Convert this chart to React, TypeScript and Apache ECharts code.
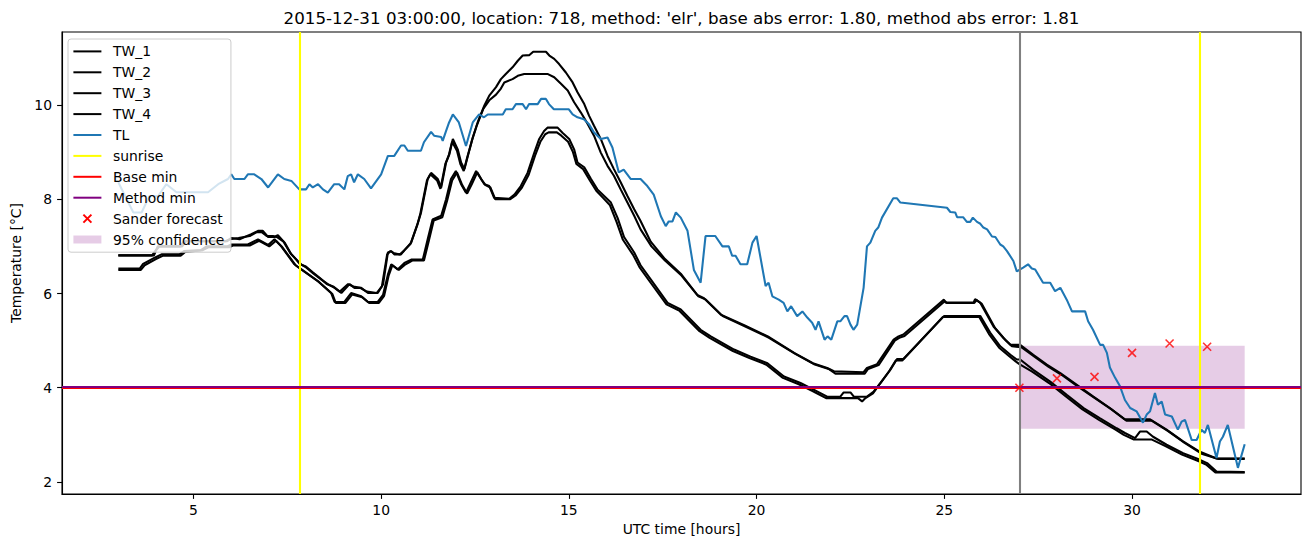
import React, { useEffect, useRef } from 'react';
import * as echarts from 'echarts';

const FONT = 'DejaVu Sans';
const TITLE = "2015-12-31 03:00:00, location: 718, method: 'elr', base abs error: 1.80, method abs error: 1.81";
const X_NAME = 'UTC time [hours]';
const Y_NAME = 'Temperature [°C]';
const X_TICKS = [5, 10, 15, 20, 25, 30];
const Y_TICKS = [2, 4, 6, 8, 10];
const X_MIN = 1.5;
const X_MAX = 34.5;
const Y_MIN = 1.745;
const Y_MAX = 11.55;

const TW_1 = [[3.0,6.81],[3.95,6.81],[4.05,7.0],[4.65,7.0],[4.75,7.11],[5.9,7.11],[6.01,7.18],[6.23,7.15],[6.54,7.26],[6.72,7.33],[6.85,7.33],[6.99,7.2],[7.16,7.2],[7.25,7.24],[7.43,7.08],[7.61,6.83],[7.78,6.69],[7.87,6.62],[8.01,6.55],[8.2,6.42],[8.4,6.3],[8.58,6.2],[8.76,6.12],[8.94,6.01],[9.16,6.2],[9.29,6.12],[9.47,6.12],[9.65,6.01],[9.91,6.01],[10.05,6.19],[10.18,6.87],[10.27,6.9],[10.35,6.83],[10.53,6.83],[10.62,6.92],[10.8,7.08],[10.98,7.5],[11.06,7.71],[11.24,8.43],[11.33,8.56],[11.51,8.43],[11.6,8.25],[11.73,8.78],[11.82,8.96],[11.91,9.28],[12.04,9.06],[12.13,8.78],[12.22,8.64],[12.31,8.92],[12.44,9.31],[12.57,9.63],[12.75,9.99],[12.88,10.2],[13.06,10.38],[13.19,10.55],[13.32,10.66],[13.5,10.8],[13.64,10.94],[13.77,11.05],[13.95,11.06],[14.05,11.13],[14.39,11.13],[14.48,11.05],[14.61,10.98],[14.74,10.87],[14.92,10.69],[15.1,10.48],[15.23,10.27],[15.41,10.02],[15.54,9.77],[15.67,9.56],[15.85,9.28],[16.03,8.92],[16.2,8.64],[16.38,8.36],[16.56,8.07],[16.74,7.79],[16.91,7.54],[17.18,7.1],[17.54,6.75],[17.98,6.42],[18.42,5.97],[18.6,5.9],[19.05,5.55],[19.67,5.33],[20.3,5.09],[21.0,4.74],[21.5,4.52],[21.88,4.42],[22.06,4.35],[22.85,4.33],[22.94,4.42],[23.21,4.5],[23.65,5.02],[23.78,5.09],[23.91,5.13],[24.99,5.87],[25.03,5.81],[25.78,5.81],[25.82,5.88],[25.96,5.8],[26.31,5.3],[26.58,5.05],[26.76,4.91],[27.02,4.91],[27.37,4.7],[27.73,4.49],[28.09,4.31],[28.53,4.06],[28.97,3.81],[29.41,3.57],[29.81,3.33],[30.48,3.33],[30.92,3.11],[31.36,2.86],[31.81,2.64],[32.25,2.5],[33.0,2.5]];

const TW_2 = [[3.0,6.81],[3.9,6.81],[4.0,6.92],[4.1,7.0],[4.7,7.0],[4.8,7.11],[5.85,7.11],[5.97,7.15],[6.2,7.18],[6.5,7.22],[6.68,7.3],[6.82,7.3],[6.95,7.22],[7.12,7.22],[7.22,7.2],[7.4,7.1],[7.58,6.86],[7.74,6.72],[7.84,6.62],[7.98,6.58],[8.18,6.45],[8.37,6.33],[8.55,6.2],[8.72,6.15],[8.9,6.04],[9.12,6.2],[9.26,6.15],[9.44,6.12],[9.62,6.04],[9.88,6.01],[10.02,6.15],[10.16,6.83],[10.25,6.9],[10.33,6.86],[10.5,6.83],[10.6,6.9],[10.78,7.05],[10.96,7.45],[11.04,7.68],[11.22,8.4],[11.31,8.53],[11.49,8.4],[11.58,8.22],[11.71,8.75],[11.8,8.93],[11.89,9.22],[12.02,9.03],[12.11,8.75],[12.2,8.6],[12.29,8.88],[12.42,9.25],[12.55,9.57],[12.72,9.92],[12.88,10.1],[13.06,10.22],[13.19,10.35],[13.28,10.48],[13.5,10.55],[13.64,10.62],[13.81,10.66],[14.43,10.66],[14.61,10.59],[14.79,10.45],[14.97,10.31],[15.14,10.06],[15.32,9.84],[15.5,9.6],[15.67,9.35],[15.85,8.99],[16.03,8.71],[16.2,8.5],[16.38,8.21],[16.56,7.93],[16.74,7.65],[16.91,7.36],[17.2,7.0],[17.56,6.7],[18.0,6.38],[18.45,5.94],[18.65,5.87],[19.1,5.52],[19.7,5.3],[20.33,5.06],[21.03,4.72],[21.53,4.5],[21.92,4.4],[22.1,4.3],[22.88,4.3],[22.97,4.4],[23.25,4.48],[23.68,5.0],[23.8,5.06],[23.94,5.1],[25.02,5.84],[25.06,5.8],[25.8,5.8],[25.86,5.86],[26.0,5.78],[26.35,5.27],[26.62,5.02],[26.8,4.88],[27.05,4.86],[27.4,4.66],[27.77,4.45],[28.13,4.27],[28.57,4.02],[29.01,3.78],[29.45,3.54],[29.85,3.3],[30.52,3.3],[30.96,3.08],[31.4,2.83],[31.85,2.6],[32.3,2.49],[33.0,2.49]];

const TW_3 = [[3.0,6.53],[3.57,6.53],[3.66,6.63],[3.97,6.76],[4.15,6.83],[4.63,6.83],[4.75,6.9],[5.2,6.92],[5.35,7.0],[5.9,7.0],[6.01,7.04],[6.45,7.04],[6.72,7.15],[6.99,7.03],[7.16,7.15],[7.34,7.0],[7.69,6.62],[7.87,6.51],[8.32,6.26],[8.67,6.01],[8.76,5.82],[9.02,5.82],[9.2,6.01],[9.47,5.94],[9.65,5.82],[9.91,5.82],[10.05,5.97],[10.18,6.4],[10.27,6.62],[10.44,6.51],[10.62,6.65],[10.8,6.72],[11.11,6.72],[11.24,7.15],[11.37,7.57],[11.6,7.65],[11.73,8.0],[11.86,8.43],[11.99,8.6],[12.13,8.32],[12.26,8.14],[12.39,8.36],[12.53,8.6],[12.66,8.43],[12.75,8.32],[12.88,8.28],[13.01,8.03],[13.41,8.01],[13.55,8.1],[13.72,8.28],[13.9,8.56],[14.08,8.99],[14.21,9.28],[14.34,9.45],[14.43,9.52],[14.7,9.52],[14.83,9.41],[15.01,9.28],[15.14,9.06],[15.23,8.78],[15.41,8.68],[15.59,8.43],[15.76,8.21],[15.94,8.07],[16.12,7.93],[16.3,7.6],[16.47,7.2],[16.74,6.87],[16.91,6.6],[17.18,6.3],[17.63,5.8],[17.98,5.66],[18.51,5.23],[18.78,5.09],[19.4,4.81],[19.84,4.66],[20.29,4.52],[20.73,4.24],[21.17,4.1],[21.52,3.96],[21.88,3.81],[22.23,3.81],[22.32,3.9],[22.5,3.9],[22.59,3.81],[22.94,3.81],[23.12,3.92],[23.3,4.1],[23.56,4.38],[23.74,4.61],[23.91,4.61],[24.99,5.52],[25.96,5.52],[26.22,5.17],[26.49,4.88],[26.76,4.7],[26.93,4.6],[27.02,4.6],[27.37,4.38],[27.82,4.13],[28.26,3.85],[28.71,3.57],[29.15,3.35],[29.59,3.14],[29.81,3.04],[30.08,2.93],[30.21,3.07],[30.39,3.07],[30.56,2.96],[30.92,2.79],[31.36,2.61],[31.81,2.47],[32.0,2.4],[32.25,2.22],[33.0,2.21]];

const TW_4 = [[3.0,6.5],[3.6,6.5],[3.7,6.6],[4.0,6.73],[4.18,6.8],[4.66,6.8],[4.78,6.88],[5.25,6.92],[5.4,6.98],[5.95,6.98],[6.05,7.02],[6.5,7.02],[6.75,7.12],[7.02,7.0],[7.2,7.12],[7.37,6.98],[7.72,6.6],[7.9,6.5],[8.35,6.24],[8.7,5.99],[8.79,5.8],[9.05,5.8],[9.23,5.98],[9.5,5.92],[9.68,5.8],[9.94,5.8],[10.08,5.95],[10.2,6.38],[10.3,6.6],[10.47,6.5],[10.65,6.62],[10.83,6.7],[11.14,6.7],[11.27,7.12],[11.4,7.55],[11.63,7.62],[11.76,7.98],[11.89,8.4],[12.02,8.57],[12.16,8.3],[12.29,8.12],[12.42,8.33],[12.56,8.57],[12.69,8.4],[12.78,8.3],[12.91,8.25],[13.04,8.0],[13.44,8.0],[13.58,8.08],[13.75,8.25],[13.93,8.52],[14.11,8.95],[14.24,9.22],[14.37,9.38],[14.46,9.42],[14.68,9.42],[14.8,9.35],[14.98,9.22],[15.11,9.0],[15.2,8.75],[15.38,8.64],[15.56,8.4],[15.73,8.18],[15.91,8.03],[16.09,7.88],[16.27,7.52],[16.44,7.14],[16.71,6.82],[16.88,6.56],[17.15,6.26],[17.6,5.77],[17.95,5.63],[18.48,5.2],[18.75,5.06],[19.37,4.78],[19.81,4.63],[20.26,4.49],[20.7,4.21],[21.14,4.07],[21.49,3.93],[21.85,3.78],[22.2,3.78],[22.7,3.78],[22.81,3.71],[22.9,3.78],[23.1,3.88],[23.27,4.07],[23.53,4.35],[23.71,4.58],[23.88,4.58],[24.96,5.5],[25.93,5.5],[26.19,5.14],[26.46,4.85],[26.73,4.67],[26.9,4.56],[27.0,4.5],[27.34,4.34],[27.79,4.1],[28.23,3.82],[28.68,3.54],[29.12,3.32],[29.56,3.11],[29.78,3.0],[30.05,2.9],[30.2,2.9],[30.53,2.9],[30.89,2.76],[31.33,2.58],[31.78,2.44],[31.97,2.37],[32.22,2.2],[33.0,2.2]];

const TL = [[3.0,8.36],[3.4,7.72],[3.62,7.72],[3.83,8.07],[4.06,8.07],[4.28,8.32],[4.55,8.15],[5.03,8.15],[5.39,8.15],[5.66,8.32],[5.92,8.43],[6.01,8.53],[6.09,8.43],[6.36,8.43],[6.45,8.53],[6.62,8.53],[6.81,8.43],[6.99,8.25],[7.25,8.53],[7.42,8.43],[7.61,8.39],[7.82,8.21],[8.0,8.21],[8.09,8.32],[8.18,8.25],[8.32,8.32],[8.45,8.21],[8.58,8.14],[8.75,8.32],[8.88,8.32],[9.02,8.21],[9.11,8.49],[9.2,8.53],[9.28,8.36],[9.38,8.53],[9.55,8.43],[9.73,8.23],[10.0,8.53],[10.18,8.92],[10.35,8.92],[10.53,9.14],[10.62,9.14],[10.71,9.03],[11.06,9.03],[11.14,9.21],[11.33,9.43],[11.41,9.35],[11.6,9.32],[11.64,9.24],[11.73,9.45],[11.81,9.63],[11.91,9.8],[12.07,9.63],[12.26,9.13],[12.44,9.63],[12.61,9.8],[12.74,9.74],[12.84,9.8],[13.24,9.8],[13.32,9.91],[13.5,9.91],[13.59,10.02],[13.77,10.02],[13.86,9.91],[13.94,10.02],[14.17,10.02],[14.26,10.13],[14.39,10.13],[14.47,10.02],[14.6,9.91],[15.0,9.91],[15.1,9.8],[15.23,9.74],[15.4,9.7],[15.53,9.6],[15.66,9.43],[15.85,9.28],[16.03,9.31],[16.16,9.1],[16.33,8.57],[16.46,8.63],[16.65,8.43],[16.91,8.43],[17.09,8.28],[17.26,8.1],[17.45,7.64],[17.58,7.43],[17.66,7.53],[17.76,7.53],[17.85,7.72],[17.98,7.61],[18.16,7.33],[18.33,6.5],[18.51,6.23],[18.64,7.22],[18.9,7.22],[19.09,7.0],[19.26,7.0],[19.35,6.8],[19.44,6.8],[19.57,6.62],[19.75,6.62],[19.89,7.08],[20.0,7.22],[20.24,6.16],[20.32,6.23],[20.42,5.94],[20.59,5.87],[20.72,5.8],[20.82,5.62],[20.92,5.73],[21.08,5.52],[21.22,5.62],[21.35,5.49],[21.48,5.38],[21.57,5.23],[21.65,5.41],[21.81,5.02],[21.89,5.09],[21.99,5.02],[22.15,5.41],[22.23,5.41],[22.34,5.52],[22.41,5.52],[22.5,5.34],[22.58,5.23],[22.68,5.34],[22.85,6.12],[22.94,7.0],[23.03,7.08],[23.16,7.33],[23.24,7.4],[23.34,7.61],[23.64,8.02],[23.74,8.02],[23.83,7.93],[25.07,7.82],[25.16,7.73],[25.29,7.72],[25.34,7.62],[25.5,7.62],[25.6,7.52],[25.69,7.52],[25.76,7.61],[25.87,7.52],[25.96,7.48],[26.04,7.4],[26.14,7.36],[26.27,7.21],[26.36,7.2],[26.49,7.04],[26.57,7.0],[26.67,6.9],[26.84,6.69],[26.93,6.47],[27.02,6.51],[27.1,6.55],[27.23,6.62],[27.33,6.53],[27.42,6.51],[27.63,6.23],[27.82,6.23],[27.95,6.05],[28.09,6.12],[28.26,5.87],[28.4,5.62],[28.75,5.62],[28.83,5.41],[28.96,5.23],[29.15,4.91],[29.23,4.91],[29.33,4.74],[29.41,4.43],[29.55,4.21],[29.68,4.03],[29.81,3.74],[29.95,3.57],[30.12,3.5],[30.29,3.26],[30.39,3.43],[30.48,3.5],[30.61,3.89],[30.69,3.64],[30.79,3.71],[30.88,3.43],[31.06,3.39],[31.22,3.11],[31.32,3.28],[31.41,3.32],[31.59,2.89],[31.72,2.89],[31.85,3.11],[31.94,3.04],[32.02,3.21],[32.25,2.51],[32.34,2.86],[32.42,2.96],[32.55,3.21],[32.82,2.3],[33.0,2.8]];

const SUNRISE = [7.82, 31.81];
const FORECAST_TIME = 27;
const BASE_MIN = 4.0;
const METHOD_MIN = 4.026;
const SANDER_HOURS = [27, 28, 29, 30, 31, 32];
const SANDER_VALUES = [4.0, 4.2, 4.23, 4.74, 4.94, 4.87];
const CONF_HOURS = [27, 33];
const CONF_BOUNDS = [3.13, 4.89];

const LEGEND_NAMES = ['TW_1', 'TW_2', 'TW_3', 'TW_4', 'TL', 'sunrise', 'Base min', 'Method min', 'Sander forecast', '95% confidence'];

const BAND_COLOR = 'rgba(128,0,128,0.2)';

function dataLine(name: string, data: number[][], color: string) {
  return {
    name,
    type: 'line',
    data,
    symbol: 'none',
    showSymbol: false,
    color,
    lineStyle: { color, width: 2.08 },
    silent: true,
    z: 3,
  };
}

function markerLine(name: string, color: string, width: number, items: any[], z: number) {
  return {
    name,
    type: 'line',
    data: [],
    symbol: 'none',
    color,
    lineStyle: { color, width },
    silent: true,
    z,
    markLine: {
      silent: true,
      symbol: ['none', 'none'],
      label: { show: false },
      emphasis: { disabled: true },
      lineStyle: { color, width, type: 'solid' },
      z,
      data: items,
    },
  };
}

export default function App() {
  const ref = useRef<HTMLDivElement>(null);
  useEffect(() => {
    if (!ref.current) return;
    const chart = echarts.init(ref.current, undefined, { renderer: 'svg' });
    const axisText = { fontFamily: FONT, fontSize: 13.9, color: '#000' };
    const option: any = {
      animation: false,
      textStyle: { fontFamily: FONT },
      grid: { left: 62, right: 9, top: 32, bottom: 53, show: true, borderColor: '#000', borderWidth: 1.1, backgroundColor: 'transparent' },
      graphic: [
        {
          type: 'text',
          x: 681.5,
          y: 18,
          silent: true,
          style: { text: TITLE, fontFamily: FONT, fontSize: 16.7, fill: '#000', align: 'center', verticalAlign: 'middle' },
        },
      ],
      xAxis: {
        type: 'value',
        min: X_MIN,
        max: X_MAX,
        splitLine: { show: false },
        axisLine: { show: true, onZero: false, lineStyle: { color: '#000', width: 1.1 } },
        axisTick: { show: true, inside: false, length: 4.9, lineStyle: { color: '#000', width: 1.1 }, customValues: X_TICKS },
        axisLabel: { ...axisText, margin: 9, customValues: X_TICKS },
        name: X_NAME,
        nameLocation: 'middle',
        nameGap: 28,
        nameTextStyle: axisText,
      },
      yAxis: {
        type: 'value',
        min: Y_MIN,
        max: Y_MAX,
        splitLine: { show: false },
        axisLine: { show: true, onZero: false, lineStyle: { color: '#000', width: 1.1 } },
        axisTick: { show: true, inside: false, length: 4.9, lineStyle: { color: '#000', width: 1.1 }, customValues: Y_TICKS },
        axisLabel: { ...axisText, margin: 10, customValues: Y_TICKS },
        name: Y_NAME,
        nameLocation: 'middle',
        nameGap: 37,
        nameTextStyle: axisText,
      },
      legend: {
        orient: 'vertical',
        left: 68,
        top: 39,
        itemWidth: 28,
        itemHeight: 8,
        itemGap: 6.9,
        padding: [5.4, 6.6, 5.7, 4.4],
        backgroundColor: 'rgba(255,255,255,0.8)',
        borderColor: '#cccccc',
        borderWidth: 1,
        borderRadius: 3,
        selectedMode: false,
        itemStyle: { opacity: 0 },
        textStyle: { fontFamily: FONT, fontSize: 13.9, color: '#000', padding: [0, 0, 0, 6.6] },
        data: LEGEND_NAMES.map((n) => {
          if (n === 'Sander forecast') return { name: n, itemStyle: { opacity: 1 } };
          if (n === '95% confidence') return { name: n, icon: 'rect', itemStyle: { opacity: 1, color: BAND_COLOR } };
          return n;
        }),
        z: 10,
      },
      series: [
        {
          name: '95% confidence',
          type: 'custom',
          silent: true,
          z: 1,
          itemStyle: { color: BAND_COLOR },
          data: [[CONF_HOURS[0], CONF_BOUNDS[0], CONF_HOURS[1], CONF_BOUNDS[1]]],
          encode: { x: [0, 2], y: [1, 3] },
          renderItem: (params: any, api: any) => {
            const a = api.coord([api.value(0), api.value(3)]);
            const b = api.coord([api.value(2), api.value(1)]);
            return {
              type: 'rect',
              shape: { x: a[0], y: a[1], width: b[0] - a[0], height: b[1] - a[1] },
              style: { fill: BAND_COLOR },
            };
          },
        },
        dataLine('TW_1', TW_1, '#000000'),
        dataLine('TW_2', TW_2, '#000000'),
        dataLine('TW_3', TW_3, '#000000'),
        dataLine('TW_4', TW_4, '#000000'),
        dataLine('TL', TL, '#1f77b4'),
        markerLine('sunrise', '#ffff00', 2.08, SUNRISE.map((h) => ({ xAxis: h })), 4),
        markerLine('forecast time', '#808080', 2.08, [{ xAxis: FORECAST_TIME }], 4),
        markerLine('Base min', '#ff0000', 2.08, [{ yAxis: BASE_MIN }], 5),
        markerLine('Method min', '#800080', 2.08, [{ yAxis: METHOD_MIN }], 5),
        {
          name: 'Sander forecast',
          type: 'scatter',
          silent: true,
          z: 6,
          symbol: 'path://M0,0L10,10M10,0L0,10',
          symbolSize: 8,
          itemStyle: { color: '#ff0000', borderColor: '#ff0000', borderWidth: 1.6 },
          data: SANDER_HOURS.map((h, i) => [h, SANDER_VALUES[i]]),
        },
      ],
    };
    chart.setOption(option);
    return () => chart.dispose();
  }, []);
  return <div ref={ref} style={{ position: 'fixed', left: 0, top: 0, width: 1310, height: 547, background: '#fff' }} />;
}
